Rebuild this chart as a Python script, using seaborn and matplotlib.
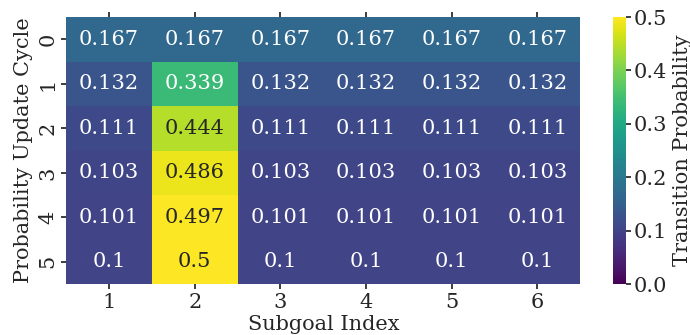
import numpy as np
import pandas as pd
import matplotlib
matplotlib.use("Agg")
import matplotlib.pyplot as plt
import seaborn as sns

subgoals = [1, 2, 3, 4, 5, 6]
cycles = [0, 1, 2, 3, 4, 5]
row0 = [0.167, 0.167, 0.167, 0.167, 0.167, 0.167]
row1 = [0.132, 0.339, 0.132, 0.132, 0.132, 0.132]
row2 = [0.111, 0.444, 0.111, 0.111, 0.111, 0.111]
row3 = [0.103, 0.486, 0.103, 0.103, 0.103, 0.103]
row4 = [0.101, 0.497, 0.101, 0.101, 0.101, 0.101]
row5 = [0.1, 0.5, 0.1, 0.1, 0.1, 0.1]

df = pd.DataFrame([row0, row1, row2, row3, row4, row5], index=cycles, columns=subgoals)

sns.set_theme(style="ticks")
plt.rcParams['font.family'] = ['DejaVu Serif']

fs = 15
fig = plt.figure(figsize=(6.9, 3.35), dpi=100)
ax = fig.add_axes([0.096, 0.152, 0.745, 0.797])
cax = fig.add_axes([0.888, 0.152, 0.019, 0.797])
sns.heatmap(df, ax=ax, cbar_ax=cax, cmap="viridis", vmin=0, vmax=0.5,
            annot=True, fmt="g", annot_kws={"size": fs},
            cbar_kws={"label": "Transition Probability"})
ax.set_xlabel("Subgoal Index", fontsize=fs, labelpad=2)
ax.set_ylabel("Probability Update Cycle", fontsize=fs, labelpad=4)
ax.tick_params(axis='both', labelsize=fs, length=3.5)
ax.tick_params(axis='x', top=True, pad=3)
ax.tick_params(axis='y', pad=3)
for t in ax.get_yticklabels():
    t.set_rotation(90)
    t.set_va('center')
cax.set_yticks([0, 0.1, 0.2, 0.3, 0.4, 0.5])
cax.tick_params(labelsize=fs, length=3.5, pad=2)
cax.yaxis.label.set_size(fs)
fig.savefig("out.png", dpi=100)
